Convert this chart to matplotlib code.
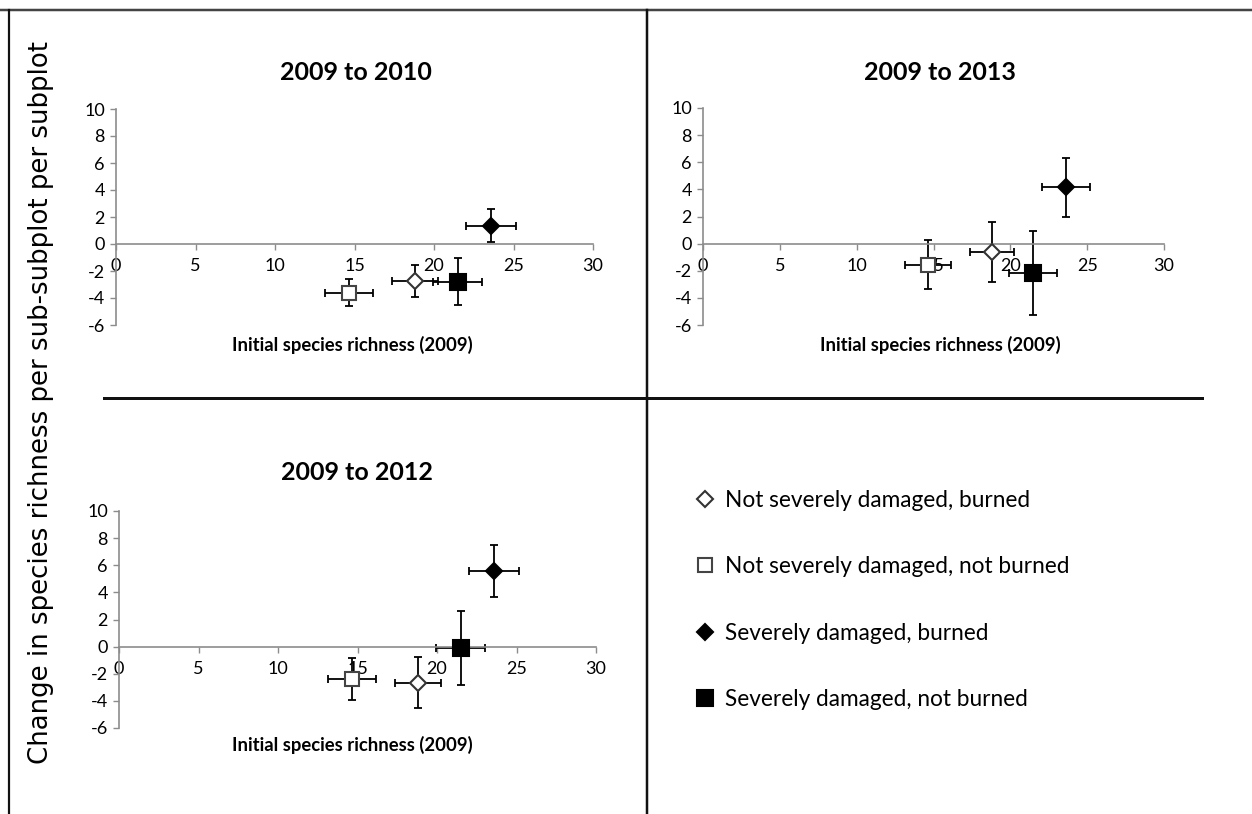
import matplotlib.pyplot as plt
from matplotlib.lines import Line2D

W, H = 1252, 814

plt.rcParams["axes.unicode_minus"] = False

# groups (legend order)
groups = [
    "Not severely damaged, burned",
    "Not severely damaged, not burned",
    "Severely damaged, burned",
    "Severely damaged, not burned",
]
markers = ["D", "s", "D", "s"]
face_colors = ["white", "white", "black", "black"]
edge_colors = ["#333333", "#444444", "black", "black"]
marker_sizes = [8, 10.5, 8.5, 11]

# initial species richness (2009) and its error, same for every panel
richness = [18.8, 14.65, 23.6, 21.48]
richness_err = [1.45, 1.5, 1.57, 1.55]

# change in species richness per panel
panel_titles = ["2009 to 2010", "2009 to 2013", "2009 to 2012"]
change_2010 = [-2.74, -3.6, 1.36, -2.79]
change_2010_err = [1.2, 0.98, 1.2, 1.75]
change_2013 = [-0.61, -1.55, 4.15, -2.14]
change_2013_err = [2.2, 1.8, 2.2, 3.1]
change_2012 = [-2.65, -2.42, 5.59, -0.09]
change_2012_err = [1.9, 1.55, 1.9, 2.74]

x_ticks = [0, 5, 10, 15, 20, 25, 30]
y_ticks = [-6, -4, -2, 0, 2, 4, 6, 8, 10]

x_label = "Initial species richness (2009)"
y_label = "Change in species richness per sub-subplot per subplot"

FONT = ["Lato", "DejaVu Sans"]


def fx(px):
    return px / W


def fy(py):
    return 1 - py / H


def make_box(x0, x30, y10, ym6):
    return [fx(x0), fy(ym6), fx(x30) - fx(x0), fy(y10) - fy(ym6)]


fig = plt.figure(figsize=(W / 100, H / 100), dpi=100)

# pixel positions of axes (x=0, x=30, y=10, y=-6)
boxes = [
    make_box(116, 593, 109, 325),
    make_box(703, 1164, 108, 325),
    make_box(119, 596, 511, 728),
]
title_pos = [(356, 73), (940, 73), (357, 472)]
xlabel_pos = [(352, 345), (940, 345), (352, 745)]
changes = [change_2010, change_2013, change_2012]
change_errs = [change_2010_err, change_2013_err, change_2012_err]

handles = []
for k in range(3):
    ax = fig.add_axes(boxes[k])
    ax.set_xlim(0, 30)
    ax.set_ylim(-6, 10)
    ax.set_xticks(x_ticks)
    ax.set_yticks(y_ticks)
    for s in ["top", "right"]:
        ax.spines[s].set_visible(False)
    ax.spines["bottom"].set_position(("data", 0))
    for s in ["left", "bottom"]:
        ax.spines[s].set_color("#8c8c8c")
        ax.spines[s].set_linewidth(1.2)
    ax.tick_params(direction="out", length=4, width=1, color="#8c8c8c",
                   labelsize=13, pad=4)
    ax.tick_params(axis="x", pad=6)
    for lab in ax.get_xticklabels() + ax.get_yticklabels():
        lab.set_family(FONT)
    ax.patch.set_alpha(0)

    for i in range(4):
        ax.errorbar(richness[i], changes[k][i], xerr=richness_err[i],
                    yerr=change_errs[k][i], fmt="none", ecolor="black",
                    elinewidth=1.3, capsize=3.2, capthick=1.3, zorder=2)
        (ln,) = ax.plot(richness[i], changes[k][i], linestyle="none",
                        marker=markers[i], markersize=marker_sizes[i],
                        markerfacecolor=face_colors[i],
                        markeredgecolor=edge_colors[i], markeredgewidth=1.5,
                        label=groups[i], zorder=3)
        if k == 0:
            handles.append(ln)

    fig.text(fx(title_pos[k][0]), fy(title_pos[k][1]), panel_titles[k],
             ha="center", va="center", fontsize=18, fontweight="bold",
             family=FONT)
    fig.text(fx(xlabel_pos[k][0]), fy(xlabel_pos[k][1]), x_label,
             ha="center", va="center", fontsize=13.3, fontweight="bold",
             family=FONT)

# shared y label
fig.text(fx(41), fy(403), y_label, rotation=90, ha="center", va="center",
         fontsize=18.7, family=["DejaVu Sans"])

# legend in the empty quarter
fig.legend(handles, groups, loc="center left",
           bbox_to_anchor=(fx(673), fy(600)), frameon=False,
           prop={"family": FONT, "size": 16.3}, labelspacing=2.0,
           handlelength=1.0, handletextpad=0.4, markerscale=1.0)

# panel frame lines
frame = [
    ([0, W], [9.5, 9.5], "#444444", 2.5),
    ([8.5, 8.5], [9.5, H], "#111111", 2.2),
    ([647, 647], [9.5, H], "#111111", 2.5),
    ([104, 1202], [397.5, 397.5], "#111111", 3.0),
]
for xs, ys, c, lw in frame:
    fig.add_artist(Line2D([fx(v) for v in xs], [fy(v) for v in ys],
                          color=c, linewidth=lw * 0.72,
                          transform=fig.transFigure))

fig.savefig("out.png", dpi=100)
